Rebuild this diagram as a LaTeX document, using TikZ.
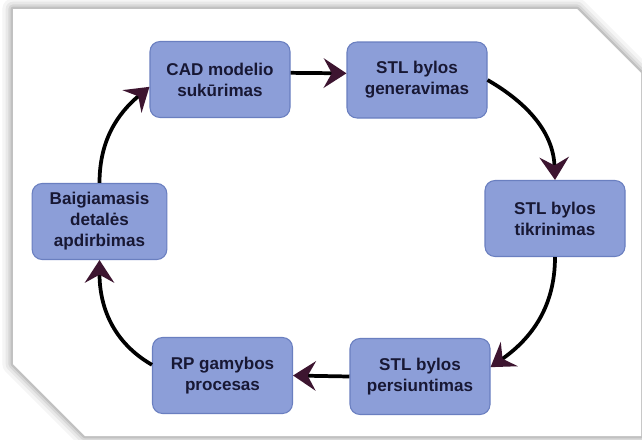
\documentclass[tikz,border=0pt]{standalone}
\usepackage{fontspec}
\setmainfont{Liberation Sans}
\usetikzlibrary{arrows.meta}
\definecolor{boxfill}{HTML}{8C9ED8}
\definecolor{boxline}{HTML}{6A7FC0}
\definecolor{txtc}{HTML}{181834}
\definecolor{arrowc}{HTML}{3D1530}
\tikzset{
  stepbox/.style={draw=boxline, line width=0.8pt, fill=boxfill, rounded corners=7.5pt,
    minimum width=105pt, minimum height=57pt, inner sep=0pt, align=center,
    text=txtc, font=\bfseries\fontsize{12.8}{15.8}\selectfont},
  flow/.style={draw=black, line width=2.8pt,
    -{Stealth[length=17pt, width=22pt, inset=6pt, color=arrowc]}}
}
\begin{document}
\begin{tikzpicture}[x=0.75pt,y=-0.75pt]
\useasboundingbox (0,0) rectangle (642,439);
\fill[white] (0,0) rectangle (642,439);
% frame with soft shadow
\foreach \w/\o in {16/0.04,11/0.05,7/0.07,3.5/0.10}{
  \draw[line width=\w pt, black, opacity=\o, line join=round]
    (13,9) -- (577,9) -- (641,73) -- (641,436) -- (85,436) -- (13,364) -- cycle;
}
\fill[white] (13,9) -- (577,9) -- (641,73) -- (641,436) -- (85,436) -- (13,364) -- cycle;

\node[stepbox] (cad) at (220,79.5) {CAD modelio\\sukūrimas};
\node[stepbox] (gen) at (417,80) {STL bylos\\generavimas};
\node[stepbox] (tik) at (555,218.5) {STL bylos\\tikrinimas};
\node[stepbox] (pers) at (420,376.5) {STL bylos\\persiuntimas};
\node[stepbox] (rp) at (222.5,375.5) {RP gamybos\\procesas};
\node[stepbox, minimum width=101pt] (baig) at (99.5,221.5) {Baigiamasis\\detalės\\apdirbimas};

\draw[flow] ([yshift=5pt]cad.east) -- ([yshift=5pt]gen.west);
\draw[flow] (gen.east) to[out=-30,in=92] (tik.north);
\draw[flow] (tik.south) to[out=-90,in=35] ([yshift=7pt]pers.east);
\draw[flow] (pers.west) -- (rp.east);
\draw[flow] ([yshift=8pt]rp.west) to[out=150,in=-90] (baig.south);
\draw[flow] (baig.north) to[out=90,in=-140] ([yshift=-5.5pt]cad.west);
\end{tikzpicture}
\end{document}
